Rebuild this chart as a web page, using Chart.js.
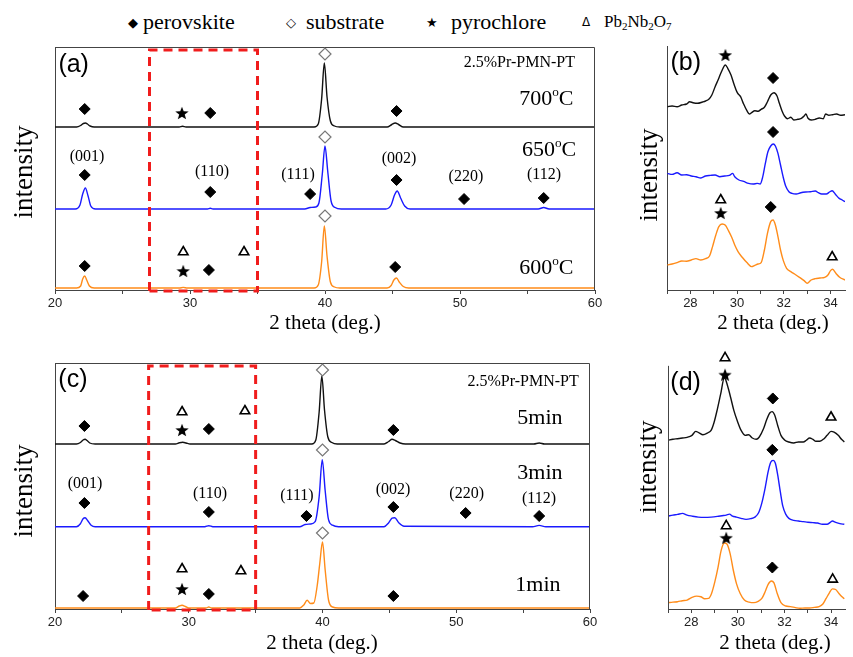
<!DOCTYPE html>
<html>
<head>
<meta charset="utf-8">
<script src="https://cdn.jsdelivr.net/npm/chart.js@4.4.1/dist/chart.umd.min.js"></script>
<style>
    html, body { margin: 0; padding: 0; background: #ffffff; }
    body { width: 853px; height: 657px; position: relative; overflow: hidden; }
    canvas { position: absolute; }
    .lg { position: absolute; top: 22px; transform: translateY(-50%); line-height: 1; white-space: nowrap; color: #000; }
    .lg_txt { font-family: "Liberation Serif", serif; font-size: 22px; }
    .lg_sym { font-family: "DejaVu Sans", sans-serif; font-size: 13px; }
    .lg_small { font-family: "Liberation Serif", serif; font-size: 17px; }
    .lg_small sub { font-size: 11px; vertical-align: -3px; }
</style>
</head>
<body>
<span class="lg lg_sym" style="left:128px">&#9670;</span>
<span class="lg lg_txt" style="left:143px">perovskite</span>
<span class="lg lg_sym" style="left:286px">&#9671;</span>
<span class="lg lg_txt" style="left:306px">substrate</span>
<span class="lg lg_sym" style="left:426px">&#9733;</span>
<span class="lg lg_txt" style="left:451px">pyrochlore</span>
<span class="lg lg_sym" style="left:582px;font-size:12px">&#916;</span>
<span class="lg lg_small" style="left:604px">Pb<sub>2</sub>Nb<sub>2</sub>O<sub>7</sub></span>

<canvas id="panel_a"></canvas>
<canvas id="panel_b"></canvas>
<canvas id="panel_c"></canvas>
<canvas id="panel_d"></canvas>

<script>
// ---------------- data (2 theta in deg., intensity above each trace's own baseline) ----------------

// (a) annealing temperature, full scan
var theta_a700 = [20, 21.6, 21.9, 22.1, 22.25, 22.4, 22.6, 22.9, 29.2, 29.45, 29.7, 39.2, 39.5, 39.75, 39.95, 40.15, 40.4, 40.7, 41.1, 44.6, 44.95, 45.2, 45.45, 45.8, 60];
var int_a700   = [0, 0, 1.5, 3.5, 4, 3, 1, 0, 0, 0.8, 0, 0, 3, 28, 64, 30, 6, 1, 0, 0, 2.5, 4, 2.5, 0, 0];

var theta_a650 = [20, 21.5, 21.85, 22.05, 22.25, 22.45, 22.65, 23.0, 31.3, 31.5, 31.7, 38.5, 38.9, 39.3, 39.55, 39.8, 40.0, 40.2, 40.45, 40.75, 41.2, 44.5, 44.9, 45.15, 45.35, 45.6, 45.9, 46.3, 55.8, 56.2, 56.6, 60];
var int_a650   = [0, 0, 4, 15, 21, 13, 3, 0, 0, 0.8, 0, 0, 1.5, 2, 6, 35, 63, 38, 8, 1.5, 0, 0, 4, 14, 18, 11, 3, 0, 0, 1.5, 0, 0];

var theta_a600 = [20, 21.6, 21.9, 22.05, 22.2, 22.35, 22.55, 22.9, 29.2, 29.5, 29.8, 39.2, 39.5, 39.75, 39.95, 40.15, 40.4, 40.7, 41.1, 44.6, 44.9, 45.1, 45.3, 45.5, 45.8, 46.2, 60];
var int_a600   = [0, 0, 2, 9, 12, 8, 2, 0, 0, 0.6, 0, 0, 3, 26, 62, 32, 6, 1, 0, 0, 2.5, 8, 10, 6, 1.5, 0, 0];

// (b) annealing temperature, 27-35 deg. detail
var theta_b700 = [27.02, 27.22, 27.43, 27.63, 27.84, 27.97, 28.11, 28.31, 28.52, 28.65, 28.79, 28.92, 29.06, 29.2, 29.33, 29.5, 29.6, 29.74, 29.88, 30.01, 30.15, 30.28, 30.42, 30.53, 30.62, 30.76, 30.9, 31.03, 31.17, 31.3, 31.44, 31.58, 31.71, 31.81, 31.92, 32.03, 32.16, 32.3, 32.43, 32.6, 32.73, 32.87, 32.95, 33.03, 33.17, 33.35, 33.52, 33.69, 33.79, 33.93, 34.09, 34.26, 34.43, 34.62];
var int_b700   = [13.3, 14, 13.3, 15, 16, 18.3, 17.3, 16.7, 18, 19, 20.7, 25, 33.3, 40.7, 48.3, 55, 51.7, 45, 35, 27.3, 23.3, 16, 9.3, 6, 7.3, 9.3, 8.7, 10.7, 12.7, 18.3, 25, 27.3, 24, 16.7, 9.3, 4, 1.3, 2.7, 0, 0.7, 1.3, 4, 6, 2, 0, 0.7, 2, 1.3, 6, 4.7, 5.3, 6, 4.7, 5.3];

var theta_b650 = [27.02, 27.22, 27.43, 27.63, 27.84, 28.04, 28.24, 28.45, 28.65, 28.86, 29.06, 29.26, 29.47, 29.67, 29.81, 29.9, 30.08, 30.28, 30.49, 30.69, 30.86, 30.99, 31.1, 31.21, 31.32, 31.44, 31.55, 31.64, 31.75, 31.86, 31.97, 32.08, 32.22, 32.35, 32.53, 32.73, 32.94, 33.14, 33.35, 33.48, 33.62, 33.82, 33.96, 34.07, 34.2, 34.37, 34.5, 34.62];
var int_b650   = [28.3, 27.3, 29, 26.7, 27, 25.7, 25, 23.7, 25.7, 26.3, 26.7, 25, 25.7, 26.3, 28.3, 25, 21.7, 20.3, 18.3, 17.7, 18.3, 17.7, 25, 38.3, 50, 55.7, 57.7, 55.7, 48.3, 36.7, 25, 15.7, 10, 8.3, 7.7, 9, 9.7, 10, 10.7, 9, 7.7, 7.7, 9.7, 11, 7.7, 3.3, 1.7, 0];

var theta_b600 = [27.02, 27.22, 27.43, 27.63, 27.84, 28.04, 28.24, 28.45, 28.65, 28.82, 28.95, 29.09, 29.22, 29.36, 29.5, 29.63, 29.77, 29.9, 30.04, 30.22, 30.42, 30.62, 30.76, 30.9, 31.03, 31.17, 31.3, 31.44, 31.54, 31.64, 31.75, 31.86, 31.98, 32.12, 32.3, 32.46, 32.67, 32.87, 33.0, 33.17, 33.35, 33.55, 33.75, 33.89, 34.0, 34.09, 34.23, 34.39, 34.62];
var int_b600   = [18.3, 19.3, 20.7, 22.3, 22, 23.3, 24.7, 23.3, 24.7, 27.3, 36.7, 48.3, 56.7, 59.3, 58, 52.7, 46, 38.3, 31.7, 26, 20.7, 16.7, 18, 19.3, 20.7, 33.3, 50, 61.7, 63.3, 58.3, 46.7, 33.3, 22.7, 15, 11.7, 9.3, 6, 2.7, 0, 3.3, 4.7, 5.3, 6, 8.3, 12.7, 14, 10, 6, 3.3];

// (c) annealing time, full scan
var theta_c5 = [20, 21.6, 21.9, 22.1, 22.25, 22.4, 22.6, 23.0, 29.0, 29.3, 29.55, 29.8, 30.1, 39.2, 39.5, 39.75, 39.95, 40.15, 40.4, 40.7, 41.1, 44.6, 44.95, 45.2, 45.45, 45.8, 46.2, 55.8, 56.2, 56.6, 60];
var int_c5   = [0, 0, 1.5, 4, 4.7, 3.5, 1, 0, 0, 1.2, 1.7, 1, 0, 0, 4, 32, 68, 34, 7, 1.5, 0, 0, 2.5, 4.7, 3.5, 1, 0, 0, 1, 0, 0];

var theta_c3 = [20, 21.6, 21.9, 22.1, 22.25, 22.45, 22.7, 23.0, 31.2, 31.5, 31.8, 38.3, 38.7, 39.1, 39.45, 39.75, 39.98, 40.2, 40.45, 40.75, 41.2, 44.6, 44.95, 45.2, 45.4, 45.7, 46.1, 55.7, 56.2, 56.7, 60];
var int_c3   = [0, 0, 3, 8, 9, 6, 1.5, 0, 0, 1, 0, 0, 2.2, 2.7, 5, 30, 67, 36, 7, 1.5, 0, 0, 4, 8.5, 9, 4, 0.5, 0, 1.3, 0, 0];

var theta_c1 = [20, 29.0, 29.3, 29.5, 29.75, 30.0, 31.3, 31.5, 31.7, 38.3, 38.6, 38.85, 39.1, 39.35, 39.6, 39.8, 40.0, 40.2, 40.45, 40.75, 41.2, 60];
var int_c1   = [0, 0, 2, 2.7, 1.5, 0, 0, 1, 0, 0, 3, 7.7, 4.5, 5, 22, 45, 66, 38, 8, 1, 0, 0];

// (d) annealing time, 27-35 deg. detail
var theta_d5 = [27.0, 27.21, 27.41, 27.62, 27.82, 28.03, 28.19, 28.33, 28.5, 28.71, 28.85, 28.98, 29.12, 29.26, 29.42, 29.56, 29.69, 29.83, 29.97, 30.14, 30.32, 30.46, 30.62, 30.79, 30.92, 31.1, 31.24, 31.37, 31.47, 31.58, 31.71, 31.85, 32.02, 32.19, 32.4, 32.6, 32.81, 32.94, 33.08, 33.22, 33.35, 33.52, 33.7, 33.83, 34.0, 34.13, 34.31, 34.45, 34.57];
var int_d5   = [2.7, 3.7, 4.3, 5, 5.7, 7.7, 11.7, 10.3, 8.3, 10.3, 12.7, 21, 34.3, 49.3, 66, 57.7, 46, 32.7, 22.7, 12.7, 7.7, 8.3, 5, 3.7, 6, 14.3, 23.7, 30.3, 31.7, 28.3, 17.7, 7.7, 2.7, 1, 0, 1, 1, 2.7, 5, 3.7, 1.7, 1.7, 4.3, 7.7, 11.7, 11, 7.7, 3.7, 1];

var theta_d3 = [27.0, 27.21, 27.41, 27.62, 27.82, 28.03, 28.3, 28.57, 28.85, 29.12, 29.32, 29.5, 29.64, 29.77, 29.94, 30.14, 30.35, 30.55, 30.73, 30.89, 31.03, 31.17, 31.3, 31.41, 31.51, 31.61, 31.71, 31.82, 31.93, 32.06, 32.19, 32.4, 32.6, 32.81, 33.01, 33.22, 33.42, 33.63, 33.83, 33.97, 34.06, 34.2, 34.38, 34.57];
var int_d3   = [8.3, 9.3, 10, 11, 9.3, 8.3, 7.3, 7, 7.3, 8, 8.7, 9.3, 10.3, 8.3, 7.3, 6, 5, 5.7, 7.3, 11.7, 21.7, 36.7, 53.3, 62.7, 64.7, 61.7, 50, 33.3, 18.3, 10, 6, 4, 3.3, 2.7, 2, 1.7, 1.3, 0, 0, 2, 3.3, 2, 0.7, 0];

var theta_d1 = [27.0, 27.21, 27.41, 27.62, 27.82, 28.03, 28.23, 28.41, 28.57, 28.74, 28.87, 29.01, 29.15, 29.28, 29.42, 29.53, 29.67, 29.8, 29.94, 30.1, 30.28, 30.48, 30.69, 30.87, 31.03, 31.17, 31.3, 31.44, 31.55, 31.69, 31.85, 32.06, 32.26, 32.47, 32.67, 32.88, 33.08, 33.29, 33.49, 33.65, 33.79, 33.93, 34.06, 34.2, 34.34, 34.47, 34.57];
var int_d1   = [5.7, 6.3, 6.7, 7.7, 8.3, 11, 12.3, 11.7, 9.7, 10, 15, 26.7, 41.7, 58.3, 66, 65, 55, 39, 25, 15, 8.3, 6.3, 5.7, 7, 10, 16.7, 24.3, 27.7, 25.7, 15, 5.7, 2.3, 1.7, 0.7, 0, 0.3, 0.3, 1, 1.7, 4.3, 10, 15.7, 19.7, 19, 15, 11.7, 9.7];

var full_ticks = [20, 30, 40, 50, 60];
var zoom_ticks = [28, 30, 32, 34];

// ---------------- styles ----------------
var BLACK = "#111111";
var BLUE = "#1a1aff";
var ORANGE = "#ff8c1a";
var RED = "#f01c1c";
var AXIS = "#444444";
var SERIF = '"Liberation Serif", "Times New Roman", serif';
var SANS = '"Liberation Sans", Arial, sans-serif';

Chart.defaults.font.family = "Liberation Sans";
Chart.defaults.color = "#222222";
Chart.defaults.animation = false;

function make_star (size) {
    var c = document.createElement("canvas");
    var ctx = c.getContext("2d");
    var r_out = size / 2;
    var r_in = r_out * 0.42;

    c.width = size;
    c.height = size;

    ctx.fillStyle = "#000000";
    ctx.beginPath();

    for (var i = 0; i < 10; i++) {
        var r = i % 2 === 0 ? r_out : r_in;
        var a = -Math.PI / 2 + i * Math.PI / 5;

        ctx.lineTo(size / 2 + r * Math.cos(a), size / 2 + r * Math.sin(a) + r_out * 0.1);
    }

    ctx.closePath();
    ctx.fill();

    return c;
}

var STAR = make_star(14);

// marker looks: perovskite, substrate, pyrochlore, Pb2Nb2O7
var mark_styles = {
    "perov": {"pointStyle": "rectRot", "pointRadius": 5.5, "pointBackgroundColor": "#000000", "pointBorderColor": "#000000", "pointBorderWidth": 1},
    "subs": {"pointStyle": "rectRot", "pointRadius": 6, "pointBackgroundColor": "#ffffff", "pointBorderColor": "#777777", "pointBorderWidth": 1.2},
    "pyro": {"pointStyle": STAR, "pointRadius": 7},
    "pbnb": {"pointStyle": "triangle", "pointRadius": 5.5, "pointBackgroundColor": "#ffffff", "pointBorderColor": "#000000", "pointBorderWidth": 1.6}
};

function trace (theta, intensity, offset, color) {
    var pts = [];

    for (var i = 0; i < theta.length; i++) {
        pts.push({"x": theta[i], "y": intensity[i] + offset});
    }

    return {
        "data": pts,
        "showLine": true,
        "borderColor": color,
        "borderWidth": 1.4,
        "pointRadius": 0,
        "cubicInterpolationMode": "monotone",
        "order": 2
    };
}

function marks (list, kind) {
    var ds = {"data": [], "showLine": false, "clip": false, "order": 1};
    var st = mark_styles[kind];

    for (var i in list) {
        ds["data"].push({"x": list[i][0], "y": list[i][1]});
    }

    for (var k in st) {
        ds[k] = st[k];
    }

    return ds;
}

function draw_rich (ctx, item, px, py) {
    var parts = typeof item.s === "string" ? [[item.s]] : item.s;
    var family = item.sans ? SANS : SERIF;
    var size = item.size;
    var w = 0;

    for (var i in parts) {
        ctx.font = (parts[i][1] ? size * 0.6 : size) + "px " + family;
        w += ctx.measureText(parts[i][0]).width;
    }

    var x = item.align === "left" ? px : px - w / 2;

    ctx.textBaseline = "middle";
    ctx.textAlign = "left";
    ctx.fillStyle = "#000000";

    for (var j in parts) {
        var sz = parts[j][1] ? size * 0.6 : size;
        var dy = parts[j][1] === "sup" ? -size * 0.3 : 0;

        ctx.font = sz + "px " + family;
        ctx.fillText(parts[j][0], x, py + dy);

        x += ctx.measureText(parts[j][0]).width;
    }
}

var deco_plugin = {
    id: "deco",
    afterDraw: function (chart) {
        var opt = chart.options.plugins.deco;
        var ctx = chart.ctx;
        var area = chart.chartArea;
        var sx = chart.scales.x;
        var sy = chart.scales.y;

        ctx.save();

        if (opt.frame) {
            ctx.strokeStyle = AXIS;
            ctx.lineWidth = 1;
            ctx.beginPath();
            ctx.moveTo(area.left, area.top + 0.5);
            ctx.lineTo(area.right - 0.5, area.top + 0.5);
            ctx.lineTo(area.right - 0.5, area.bottom);
            ctx.stroke();
        }

        // left axis that stops below the top of the plot area (room for marks above it)
        if (opt.left_axis_top !== undefined) {
            ctx.strokeStyle = AXIS;
            ctx.lineWidth = 1;
            ctx.beginPath();
            ctx.moveTo(area.left + 0.5, sy.getPixelForValue(opt.left_axis_top));
            ctx.lineTo(area.left + 0.5, area.bottom);
            ctx.stroke();
        }

        if (opt.box) {
            var x0 = sx.getPixelForValue(opt.box[0]);
            var x1 = sx.getPixelForValue(opt.box[1]);
            var y0 = area.top + 3;
            var y1 = area.bottom + 1;

            ctx.strokeStyle = RED;
            ctx.lineWidth = 3;
            ctx.setLineDash([9, 6]);
            ctx.beginPath();
            ctx.moveTo(x0, y1);
            ctx.lineTo(x0, y0);
            ctx.lineTo(x1, y0);
            ctx.lineTo(x1, y1);
            ctx.lineTo(x0, y1);
            ctx.stroke();
            ctx.setLineDash([]);
        }

        for (var i in opt.texts) {
            var t = opt.texts[i];

            draw_rich(ctx, t, sx.getPixelForValue(t.x), sy.getPixelForValue(t.y));
        }

        // axis titles
        ctx.fillStyle = "#000000";
        ctx.textAlign = "center";
        ctx.textBaseline = "middle";
        ctx.font = "21px " + SERIF;
        ctx.fillText("2 theta (deg.)", opt.x_title[0], opt.x_title[1]);

        ctx.translate(opt.y_title[0], opt.y_title[1]);
        ctx.rotate(-Math.PI / 2);
        ctx.font = "27px " + SERIF;
        ctx.fillText("intensity", 0, 0);

        ctx.restore();
    }
};

function build (p) {
    var cv = document.getElementById(p.id);

    cv.width = p.w;
    cv.height = p.h;
    cv.style.left = p.left + "px";
    cv.style.top = p.top + "px";

    var labelled = p.labels;

    return new Chart(cv.getContext("2d"), {
        "type": "scatter",
        "data": {"datasets": p.datasets},
        "plugins": [deco_plugin],
        "options": {
            "responsive": false,
            "devicePixelRatio": 1,
            "events": [],
            "layout": {"padding": p.pad},
            "scales": {
                "x": {
                    "type": "linear",
                    "min": p.xmin,
                    "max": p.xmax,
                    "afterFit": function (s) { s.height = p.axis_h; },
                    "border": {"display": true, "color": AXIS, "width": 1},
                    "grid": {"display": true, "drawOnChartArea": false, "drawTicks": true, "tickLength": 4, "color": AXIS, "tickColor": AXIS},
                    "ticks": {
                        "stepSize": p.step,
                        "autoSkip": false,
                        "maxRotation": 0,
                        "includeBounds": false,
                        "padding": 2,
                        "color": "#222222",
                        "font": {"family": "Liberation Sans", "size": 13},
                        "callback": function (v) { return labelled.indexOf(v) >= 0 ? String(v) : ""; }
                    }
                },
                "y": {
                    "type": "linear",
                    "min": 0,
                    "max": p.ymax,
                    "afterFit": function (s) { s.width = 0; },
                    "border": {"display": p.left_axis_top === undefined, "color": AXIS, "width": 1},
                    "grid": {"display": true, "drawOnChartArea": false, "drawTicks": false},
                    "ticks": {"display": false}
                }
            },
            "plugins": {
                "legend": {"display": false},
                "tooltip": {"enabled": false},
                "deco": {"frame": p.frame, "box": p.box, "texts": p.texts, "x_title": p.x_title, "y_title": p.y_title, "left_axis_top": p.left_axis_top}
            }
        }
    });
}

// degree sign drawn as raised "o", as in the original
function temp (v) {
    return [[v], ["o", "sup"], ["C"]];
}

// ---------------- panel (a) ----------------
build({
    id: "panel_a", left: 0, top: 0, w: 605, h: 345,
    pad: {left: 55, top: 47, right: 10, bottom: 0}, axis_h: 55,
    xmin: 20, xmax: 60, step: 5, labels: full_ticks, ymax: 243,
    frame: true, box: [27, 35],
    x_title: [325, 323], y_title: [25, 172],
    datasets: [
        trace(theta_a700, int_a700, 163, BLACK),
        trace(theta_a650, int_a650, 81, BLUE),
        trace(theta_a600, int_a600, 2, ORANGE),
        marks([[22.2, 181], [31.5, 177], [45.3, 179], [22.2, 115], [31.5, 98], [38.9, 96], [45.3, 110], [50.3, 91], [56.2, 92], [22.2, 24], [31.4, 20], [45.2, 23]], "perov"),
        marks([[40, 236], [40, 153], [40, 74]], "subs"),
        marks([[29.4, 177], [29.5, 19]], "pyro"),
        marks([[29.5, 38], [34.0, 38]], "pbnb")
    ],
    texts: [
        {s: "(a)", x: 20.25, y: 225, size: 25, sans: true, align: "left"},
        {s: "2.5%Pr-PMN-PT", x: 54.4, y: 227, size: 16},
        {s: temp("700"), x: 56.4, y: 191, size: 22},
        {s: temp("650"), x: 56.6, y: 140, size: 22},
        {s: temp("600"), x: 56.4, y: 22, size: 22},
        {s: "(001)", x: 22.37, y: 133, size: 16},
        {s: "(110)", x: 31.63, y: 118, size: 16},
        {s: "(111)", x: 38.0, y: 115, size: 16},
        {s: "(002)", x: 45.48, y: 131, size: 16},
        {s: "(220)", x: 50.44, y: 113, size: 16},
        {s: "(112)", x: 56.22, y: 115, size: 16}
    ]
});

// ---------------- panel (b) ----------------
build({
    id: "panel_b", left: 640, top: 0, w: 213, h: 345,
    pad: {left: 27, top: 46, right: 0, bottom: 0}, axis_h: 55,
    xmin: 27, xmax: 34.62, step: 1, labels: zoom_ticks, ymax: 244,
    frame: false, box: null,
    x_title: [133, 323], y_title: [10, 175],
    datasets: [
        trace(theta_b700, int_b700, 170, BLACK),
        trace(theta_b650, int_b650, 88.3, BLUE),
        trace(theta_b600, int_b600, 6.7, ORANGE),
        marks([[31.54, 212], [31.54, 158], [31.44, 83]], "perov"),
        marks([[29.5, 235], [29.3, 77]], "pyro"),
        marks([[29.3, 90], [34.07, 33]], "pbnb")
    ],
    texts: [
        {s: "(b)", x: 27.15, y: 227, size: 25, sans: true, align: "left"}
    ]
});

// ---------------- panel (c) ----------------
build({
    id: "panel_c", left: 0, top: 345, w: 605, h: 312,
    pad: {left: 55, top: 18, right: 15, bottom: 0}, axis_h: 48,
    xmin: 20, xmax: 60, step: 5, labels: full_ticks, ymax: 246,
    frame: true, box: [27, 35],
    x_title: [322, 298], y_title: [25, 146],
    datasets: [
        trace(theta_c5, int_c5, 165, BLACK),
        trace(theta_c3, int_c3, 82.3, BLUE),
        trace(theta_c1, int_c1, 1, ORANGE),
        marks([[22.2, 183], [31.5, 180], [45.3, 179], [22.2, 106], [31.5, 97], [38.8, 93], [45.3, 102], [50.7, 96], [56.2, 93], [22.1, 13], [31.5, 15], [45.3, 13]], "perov"),
        marks([[40, 239], [40, 159], [40, 76]], "subs"),
        marks([[29.5, 179], [29.5, 20]], "pyro"),
        marks([[29.5, 197], [34.2, 198], [29.5, 40], [33.9, 38]], "pbnb")
    ],
    texts: [
        {s: "(c)", x: 20.25, y: 229, size: 25, sans: true, align: "left"},
        {s: "2.5%Pr-PMN-PT", x: 55.0, y: 227, size: 16},
        {s: "5min", x: 56.26, y: 191, size: 22},
        {s: "3min", x: 56.26, y: 136, size: 22},
        {s: "1min", x: 56.11, y: 24, size: 22},
        {s: "(001)", x: 22.24, y: 125, size: 16},
        {s: "(110)", x: 31.59, y: 115, size: 16},
        {s: "(111)", x: 38.09, y: 113, size: 16},
        {s: "(002)", x: 45.27, y: 119, size: 16},
        {s: "(220)", x: 50.78, y: 115, size: 16},
        {s: "(112)", x: 56.19, y: 110, size: 16}
    ]
});

// ---------------- panel (d) ----------------
// plot area reaches above the drawn axis so the top marks are not cut
build({
    id: "panel_d", left: 640, top: 345, w: 213, h: 312,
    pad: {left: 28, top: 5, right: 0, bottom: 0}, axis_h: 48,
    xmin: 27, xmax: 34.6, step: 1, labels: zoom_ticks, ymax: 259, left_axis_top: 246,
    frame: false, box: null,
    x_title: [135, 298], y_title: [9, 122],
    datasets: [
        trace(theta_d5, int_d5, 168, BLACK),
        trace(theta_d3, int_d3, 85.7, BLUE),
        trace(theta_d1, int_d1, 0.7, ORANGE),
        marks([[31.5, 213], [31.48, 161], [31.48, 42]], "perov"),
        marks([[29.45, 237], [29.5, 72]], "pyro"),
        marks([[29.45, 254], [34.0, 194], [29.5, 84], [34.07, 30]], "pbnb")
    ],
    texts: [
        {s: "(d)", x: 27.1, y: 229, size: 25, sans: true, align: "left"}
    ]
});
</script>
</body>
</html>
